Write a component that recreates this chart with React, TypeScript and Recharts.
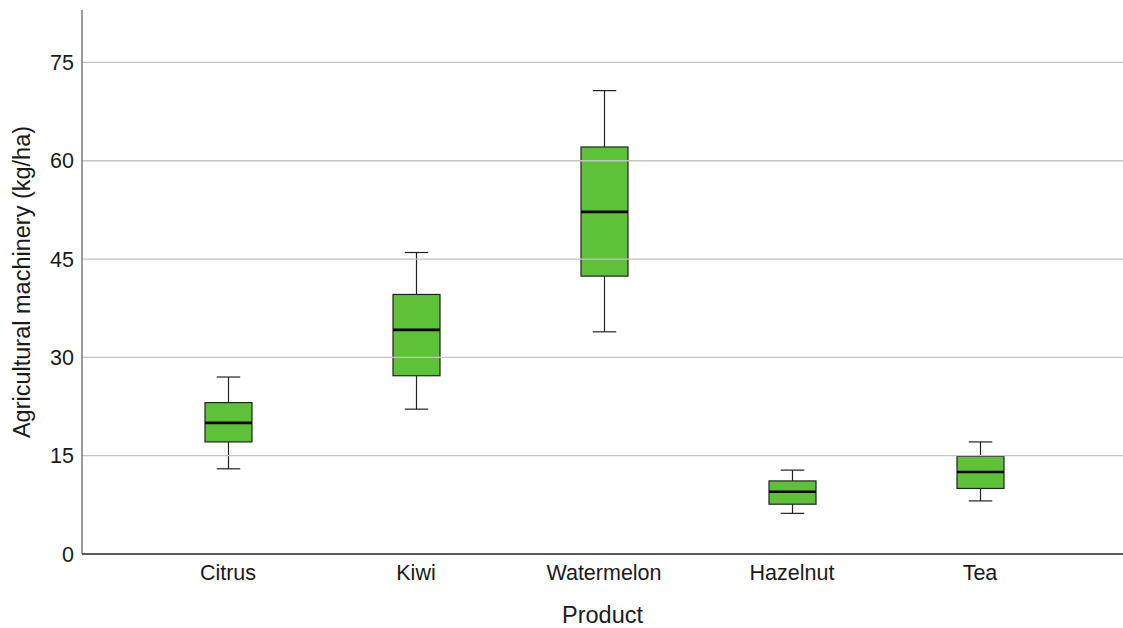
import React from "react";
import { ComposedChart, Bar, XAxis, YAxis, ReferenceLine } from "recharts";

// Box-plot summary per product (kg/ha)
const products = ["Citrus", "Kiwi", "Watermelon", "Hazelnut", "Tea"];
const minValues = [13.0, 22.1, 33.9, 6.2, 8.1];
const q1Values = [17.1, 27.2, 42.4, 7.6, 10.0];
const medianValues = [20.0, 34.2, 52.2, 9.5, 12.5];
const q3Values = [23.1, 39.6, 62.1, 11.15, 14.9];
const maxValues = [27.0, 46.0, 70.7, 12.8, 17.1];
const yTicks = [0, 15, 30, 45, 60, 75];
const gridValues = [15, 30, 45, 60, 75];

const data = products.map((name, i) => ({
  name,
  min: minValues[i],
  q1: q1Values[i],
  median: medianValues[i],
  q3: q3Values[i],
  max: maxValues[i],
  base: q1Values[i],
  span: q3Values[i] - q1Values[i],
}));

const FONT = "'Liberation Sans', Arial, sans-serif";
const TEXT = "#1a1a1a";

// Draws the IQR box with whiskers and median line; the bar spans q1..q3,
// so its pixel height gives the value-to-pixel ratio for the other stats.
const BoxShape = (props: any) => {
  const { x, y, width, height, payload } = props;
  if (height == null || !payload) return null;
  const ratio = height / (payload.q3 - payload.q1);
  const cx = x + width / 2;
  const yMax = y - (payload.max - payload.q3) * ratio;
  const yMin = y + height + (payload.q1 - payload.min) * ratio;
  const yMed = y + (payload.q3 - payload.median) * ratio;
  const cap = width / 4;
  const stroke = "#222";
  return (
    <g>
      <line x1={cx} x2={cx} y1={yMax} y2={y} stroke={stroke} strokeWidth={1.2} />
      <line x1={cx} x2={cx} y1={y + height} y2={yMin} stroke={stroke} strokeWidth={1.2} />
      <line x1={cx - cap} x2={cx + cap} y1={yMax} y2={yMax} stroke={stroke} strokeWidth={1.2} />
      <line x1={cx - cap} x2={cx + cap} y1={yMin} y2={yMin} stroke={stroke} strokeWidth={1.2} />
      <rect x={x} y={y} width={width} height={height} fill="#5EC238" stroke={stroke} strokeWidth={1.2} />
      <line x1={x} x2={x + width} y1={yMed} y2={yMed} stroke="#000" strokeWidth={2.6} />
    </g>
  );
};

export default function App() {
  return (
    <div style={{ position: "absolute", left: 0, top: 0, background: "#fff" }}>
      <ComposedChart
        width={1123}
        height={628}
        data={data}
        margin={{ top: 10, right: 0, bottom: 0, left: 0 }}
      >
        {gridValues.map((v) => (
          <ReferenceLine key={v} y={v} stroke="#c4c4c4" strokeWidth={1.3} />
        ))}
        <XAxis
          dataKey="name"
          height={74}
          padding={{ left: 52, right: 49 }}
          tickLine={false}
          tickMargin={5}
          stroke="#222"
          strokeWidth={1.3}
          tick={{ fill: TEXT, fontSize: 21.5, fontFamily: FONT }}
          label={{
            value: "Product",
            position: "insideBottom",
            offset: 5,
            style: { fill: TEXT, fontSize: 23.5, fontFamily: FONT },
          }}
        />
        <YAxis
          width={82}
          domain={[0, 83]}
          ticks={yTicks}
          tickLine={false}
          stroke="#666"
          strokeWidth={1.3}
          tick={{ fill: TEXT, fontSize: 21.5, fontFamily: FONT }}
          label={{
            value: "Agricultural machinery (kg/ha)",
            angle: -90,
            position: "insideLeft",
            offset: 22,
            style: { textAnchor: "middle", fill: TEXT, fontSize: 23.5, fontFamily: FONT },
          }}
        />
        <Bar dataKey="base" stackId="box" fill="transparent" barSize={47} isAnimationActive={false} />
        <Bar dataKey="span" stackId="box" barSize={47} shape={BoxShape} isAnimationActive={false} />
      </ComposedChart>
    </div>
  );
}
